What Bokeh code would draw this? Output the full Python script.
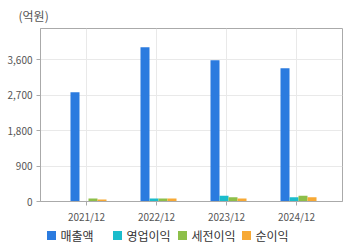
from bokeh.plotting import figure
from bokeh.models import FixedTicker, Range1d, ColumnDataSource, NumeralTickFormatter
from bokeh.core.properties import value
from bokeh.layouts import column
from bokeh.embed import file_html
from bokeh.resources import INLINE

periods = ["2021/12", "2022/12", "2023/12", "2024/12"]
series_names = ["매출액", "영업이익", "세전이익", "순이익"]
sales = [2780, 3920, 3590, 3390]
operating = [0, 75, 146, 105]
pretax = [75, 75, 105, 146]
net = [50, 75, 75, 105]
colors = ["#2b7bdf", "#1bbccc", "#8dbf4a", "#f7a935"]
y_ticks = [0, 900, 1800, 2700, 3600]

FONT = "Noto Sans CJK KR"

p = figure(width=360, height=226, output_backend="svg", toolbar_location=None,
           x_range=Range1d(-0.657, 3.657), y_range=Range1d(0, 4400),
           min_border_left=40, min_border_right=18, min_border_top=20, min_border_bottom=25)
p.frame_align = False
p.background_fill_color = "white"
p.border_fill_color = "white"
p.outline_line_color = "#aaaaaa"

xs = list(range(len(periods)))
bw = 9 / 70.0
shift = 2 / 70.0
all_series = [sales, operating, pretax, net]
for i, (vals, c) in enumerate(zip(all_series, colors)):
    off = (i - 1.5) * bw + shift
    src = ColumnDataSource(dict(x=[x + off for x in xs], top=vals))
    p.vbar(x="x", top="top", width=bw, source=src, fill_color=c, line_color=None)

p.xaxis.ticker = FixedTicker(ticks=xs)
p.xaxis.major_label_overrides = {i: s for i, s in enumerate(periods)}
p.yaxis.ticker = FixedTicker(ticks=y_ticks)
p.yaxis.formatter = NumeralTickFormatter(format="0,0")

for ax in (p.xaxis[0], p.yaxis[0]):
    ax.axis_line_color = "#aaaaaa"
    ax.major_tick_line_color = "#aaaaaa"
    ax.major_tick_in = 0
    ax.major_tick_out = 4
    ax.minor_tick_line_color = None
    ax.major_label_text_font = FONT
    ax.major_label_text_font_size = "10px"
    ax.major_label_text_color = "#555555"
p.xaxis.major_label_standoff = 3
p.yaxis.major_label_standoff = 4

p.xgrid.ticker = FixedTicker(ticks=xs)
p.ygrid.ticker = FixedTicker(ticks=y_ticks)
p.xgrid.grid_line_color = "#e9e9e9"
p.ygrid.grid_line_color = "#e9e9e9"

p.title.text = "(억원)"
p.title.text_font = FONT
p.title.text_font_size = "12px"
p.title.text_font_style = "normal"
p.title.text_color = "#555555"
p.title.align = "left"
p.title.offset = -22
p.title.standoff = 9

# legend strip (pixel coordinates)
lg = figure(width=360, height=22, output_backend="svg", toolbar_location=None,
            x_axis_type=None, y_axis_type=None,
            x_range=Range1d(0, 360), y_range=Range1d(0, 22),
            min_border=0, min_border_left=0, min_border_right=0, min_border_top=0, min_border_bottom=0)
lg.frame_align = False
lg.grid.visible = False
lg.outline_line_color = None
lg.background_fill_color = "white"
lg.border_fill_color = "white"

leg_x = [51, 117, 182, 246]
leg_y = 13
lg.rect(x=leg_x, y=[leg_y] * 4, width=9, height=9, fill_color=colors, line_color=None)
lg.text(x=[x + 9 for x in leg_x], y=[leg_y] * 4, text=series_names,
        text_font=value(FONT), text_font_size="12px", text_color="#333333",
        text_baseline="middle", text_align="left")

layout = column(p, lg, spacing=0)
open("out.html", "w").write(file_html(layout, INLINE))
